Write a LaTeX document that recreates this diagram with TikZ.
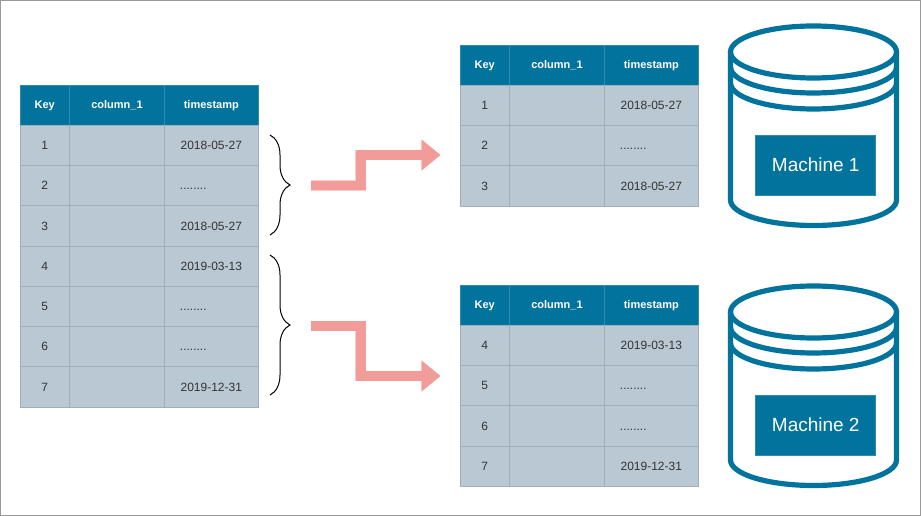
\documentclass[tikz,border=0pt]{standalone}
\usepackage{fontspec}
\setmainfont{Liberation Sans}
\usetikzlibrary{arrows.meta,decorations.pathreplacing}
\definecolor{headblue}{HTML}{02739C}
\definecolor{headline}{HTML}{2F8AAB}
\definecolor{rowgrey}{HTML}{BAC8D3}
\definecolor{rowline}{HTML}{9DAFBB}
\definecolor{salmon}{HTML}{F19C99}
\definecolor{salmonpale}{HTML}{F8CECC}
\definecolor{framegrey}{HTML}{9A9A9A}
\newcommand{\gapdots}{........\hspace*{27pt}}
\tikzset{
	cell/.style={draw=rowline, line width=.5pt, fill=rowgrey, text=black!80, anchor=north west, inner sep=0pt, outer sep=0pt, minimum height=30.23pt, text height=6.5pt, text depth=0pt, font=\fontsize{9pt}{11pt}\selectfont},
	headcell/.style={cell, draw=headline, fill=headblue, text=white, minimum height=30pt, text height=6pt, font=\fontsize{8.25pt}{10pt}\selectfont\bfseries},
	keycol/.style={minimum width=37.1pt},
	valcol/.style={minimum width=71.25pt},
	timecol/.style={minimum width=70.2pt},
	machinebox/.style={draw=headline, line width=.5pt, fill=headblue, text=white, inner sep=0pt, outer sep=0pt, minimum width=90pt, minimum height=45pt, font=\fontsize{14.25pt}{16pt}\selectfont},
	barrel/.style={draw=headblue, line width=3.9pt},
	groupbrace/.style={draw=black, line width=.75pt, decorate, decoration={brace, amplitude=15pt}},
	steparrow/.style={draw=salmon, line width=7.4pt, -{Triangle[length=14pt, width=22pt, fill=salmon]},
		preaction={draw=salmonpale, line width=8pt, -{Triangle[length=14.8pt, width=22.8pt, fill=salmonpale]}}},
}
% name, left, top, rows
\newcommand{\datatable}[4]{
	\node[headcell, keycol] (#1-key) at (#2, #3) {Key};
	\node[headcell, valcol] (#1-val) at (#2+49.5, #3) {column\_1};
	\node[headcell, timecol] (#1-time) at (#2+144.5, #3) {timestamp};
	\foreach \k/\d [count=\r from 0] in {#4} {
		\node[cell, keycol] (#1-key-\k) at (#2, #3+40+\r*40.3) {\k};
		\node[cell, valcol] (#1-val-\k) at (#2+49.5, #3+40+\r*40.3) {};
		\node[cell, timecol] (#1-time-\k) at (#2+144.5, #3+40+\r*40.3) {\d};
	}
}
\begin{document}
\begin{tikzpicture}[x=.75pt, y=-.75pt]
	\useasboundingbox (0,0) rectangle (921,516);
	\draw[framegrey, line width=.75pt] (.5,.5) rectangle (920.5,515.5);

	\datatable{all}{20}{85}{1/2018-05-27, 2/\gapdots, 3/2018-05-27, 4/2019-03-13, 5/\gapdots, 6/\gapdots, 7/2019-12-31}
	\datatable{first}{460}{45}{1/2018-05-27, 2/\gapdots, 3/2018-05-27}
	\datatable{second}{460}{285}{4/2019-03-13, 5/\gapdots, 6/\gapdots, 7/2019-12-31}

	% braces
	\coordinate (bracetopa) at (270,135);
	\coordinate (bracetopb) at (270,235);
	\coordinate (bracelowa) at (270,255);
	\coordinate (bracelowb) at (270,395);
	\draw[groupbrace] (bracetopa) -- (bracetopb);
	\draw[groupbrace] (bracelowa) -- (bracelowb);

	% arrows
	\coordinate (upfrom) at (311,185.5);
	\coordinate (upto) at (440.5,155);
	\coordinate (downfrom) at (311,326);
	\coordinate (downto) at (440.5,376);
	\draw[steparrow] (upfrom) -- ++(49.7,0) |- (upto);
	\draw[steparrow] (downfrom) -- ++(49.7,0) |- (downto);

	% machines
	\foreach \n/\lbl/\dy in {one/Machine 1/0, two/Machine 2/260} {
		\begin{scope}[shift={(0,\dy)}]
			\draw[barrel] (813.5,52) ellipse (83 and 26);
			\draw[barrel] (730.5,52) -- (730.5,200) arc[start angle=180, end angle=0, x radius=83, y radius=25.5] -- (896.5,52);
			\draw[barrel] (730.5,67) arc[start angle=180, end angle=0, x radius=83, y radius=26];
			\draw[barrel] (730.5,83) arc[start angle=180, end angle=0, x radius=83, y radius=26];
			\node[machinebox] (\n) at (815.75,165) {\lbl};
		\end{scope}
	}
\end{tikzpicture}
\end{document}
